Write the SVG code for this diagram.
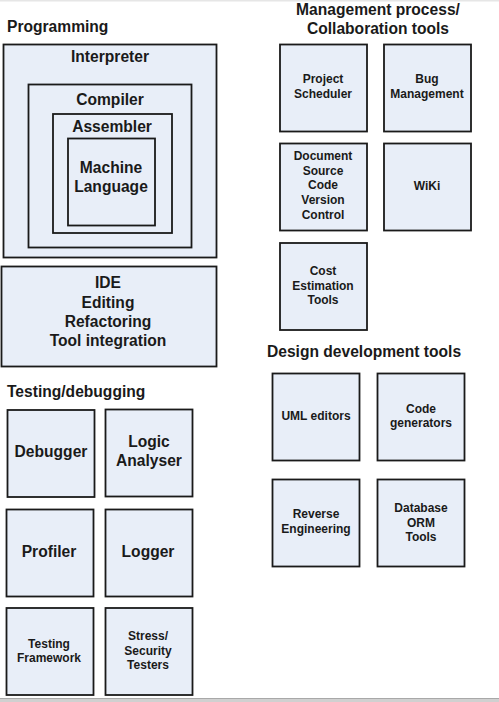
<svg xmlns="http://www.w3.org/2000/svg" width="499" height="702" viewBox="0 0 499 702">
<style>
.b{fill:#e8eef8;stroke:#1a1a1a;stroke-width:1.8}
.h{font-family:"Liberation Sans",Arial,sans-serif;font-weight:bold;font-size:15.6px;fill:#1a1a1a}
.l{font-family:"Liberation Sans",Arial,sans-serif;font-weight:bold;font-size:15.6px;fill:#1a1a1a;text-anchor:middle}
.s{font-family:"Liberation Sans",Arial,sans-serif;font-weight:bold;font-size:12px;fill:#1a1a1a;text-anchor:middle}
</style>
<rect x="0" y="0" width="499" height="702" fill="#ffffff"/>
<rect x="0" y="0" width="499" height="1.5" fill="#e6e6e6"/>
<rect x="0" y="698" width="499" height="4" fill="#d0d0d0"/>
<rect x="0" y="698" width="499" height="1" fill="#a8a8a8"/>

<g id="titles">
<text class="h" x="7" y="32">Programming</text>
<text class="h" x="7" y="397">Testing/debugging</text>
<text class="l" x="378" y="15">Management process/</text>
<text class="l" x="378" y="34">Collaboration tools</text>
<text class="h" x="267" y="357">Design development tools</text>
</g>

<g id="interpreter"><rect class="b" x="3.5" y="44.5" width="213" height="213"/><text class="l" x="110" y="62">Interpreter</text></g>
<g id="compiler"><rect class="b" x="28.5" y="84.5" width="163" height="163"/><text class="l" x="110" y="105">Compiler</text></g>
<g id="assembler"><rect class="b" x="53" y="114" width="119" height="119"/><text class="l" x="112" y="132">Assembler</text></g>
<g id="machine"><rect class="b" x="68" y="138.5" width="87" height="87"/><text class="l" x="111" y="173">Machine</text><text class="l" x="111" y="192">Language</text></g>

<g id="ide"><rect class="b" x="1.5" y="266.5" width="215" height="100"/>
<text class="l" x="108" y="288">IDE</text><text class="l" x="108" y="308">Editing</text><text class="l" x="108" y="327">Refactoring</text><text class="l" x="108" y="346">Tool integration</text></g>

<g id="debugger"><rect class="b" x="7.5" y="410" width="87" height="87"/><text class="l" x="51" y="457">Debugger</text></g>
<g id="logic"><rect class="b" x="105.5" y="409.5" width="87" height="87"/><text class="l" x="149" y="447">Logic</text><text class="l" x="149" y="466">Analyser</text></g>
<g id="profiler"><rect class="b" x="6.5" y="509.5" width="87" height="87"/><text class="l" x="49" y="557">Profiler</text></g>
<g id="logger"><rect class="b" x="105.5" y="509.5" width="87" height="87"/><text class="l" x="148" y="557">Logger</text></g>
<g id="testing"><rect class="b" x="6.5" y="608" width="87" height="87"/><text class="s" x="49" y="648">Testing</text><text class="s" x="49" y="662">Framework</text></g>
<g id="stress"><rect class="b" x="105.5" y="608" width="87" height="87"/><text class="s" x="148" y="640">Stress/</text><text class="s" x="148" y="655">Security</text><text class="s" x="148" y="669">Testers</text></g>

<g id="project"><rect class="b" x="280" y="44.5" width="87" height="87"/><text class="s" x="323" y="83">Project</text><text class="s" x="323" y="98">Scheduler</text></g>
<g id="bug"><rect class="b" x="384" y="44.5" width="87" height="87"/><text class="s" x="427" y="83">Bug</text><text class="s" x="427" y="98">Management</text></g>
<g id="document"><rect class="b" x="280" y="143.5" width="87" height="87"/>
<text class="s" x="323" y="160">Document</text><text class="s" x="323" y="175">Source</text><text class="s" x="323" y="189">Code</text><text class="s" x="323" y="204">Version</text><text class="s" x="323" y="219">Control</text></g>
<g id="wiki"><rect class="b" x="384" y="143.5" width="87" height="87"/><text class="s" x="427" y="190">WiKi</text></g>
<g id="cost"><rect class="b" x="280" y="243" width="87" height="87"/><text class="s" x="323" y="275">Cost</text><text class="s" x="323" y="290">Estimation</text><text class="s" x="323" y="304">Tools</text></g>

<g id="uml"><rect class="b" x="272.5" y="373.5" width="87" height="87"/><text class="s" x="316" y="420">UML editors</text></g>
<g id="codegen"><rect class="b" x="377.5" y="373.5" width="87" height="87"/><text class="s" x="421" y="413">Code</text><text class="s" x="421" y="427">generators</text></g>
<g id="reverse"><rect class="b" x="272.5" y="479.5" width="87" height="87"/><text class="s" x="316" y="518">Reverse</text><text class="s" x="316" y="533">Engineering</text></g>
<g id="database"><rect class="b" x="377.5" y="479.5" width="87" height="87"/><text class="s" x="421" y="512">Database</text><text class="s" x="421" y="527">ORM</text><text class="s" x="421" y="541">Tools</text></g>

<g id="connectors"></g>
</svg>
